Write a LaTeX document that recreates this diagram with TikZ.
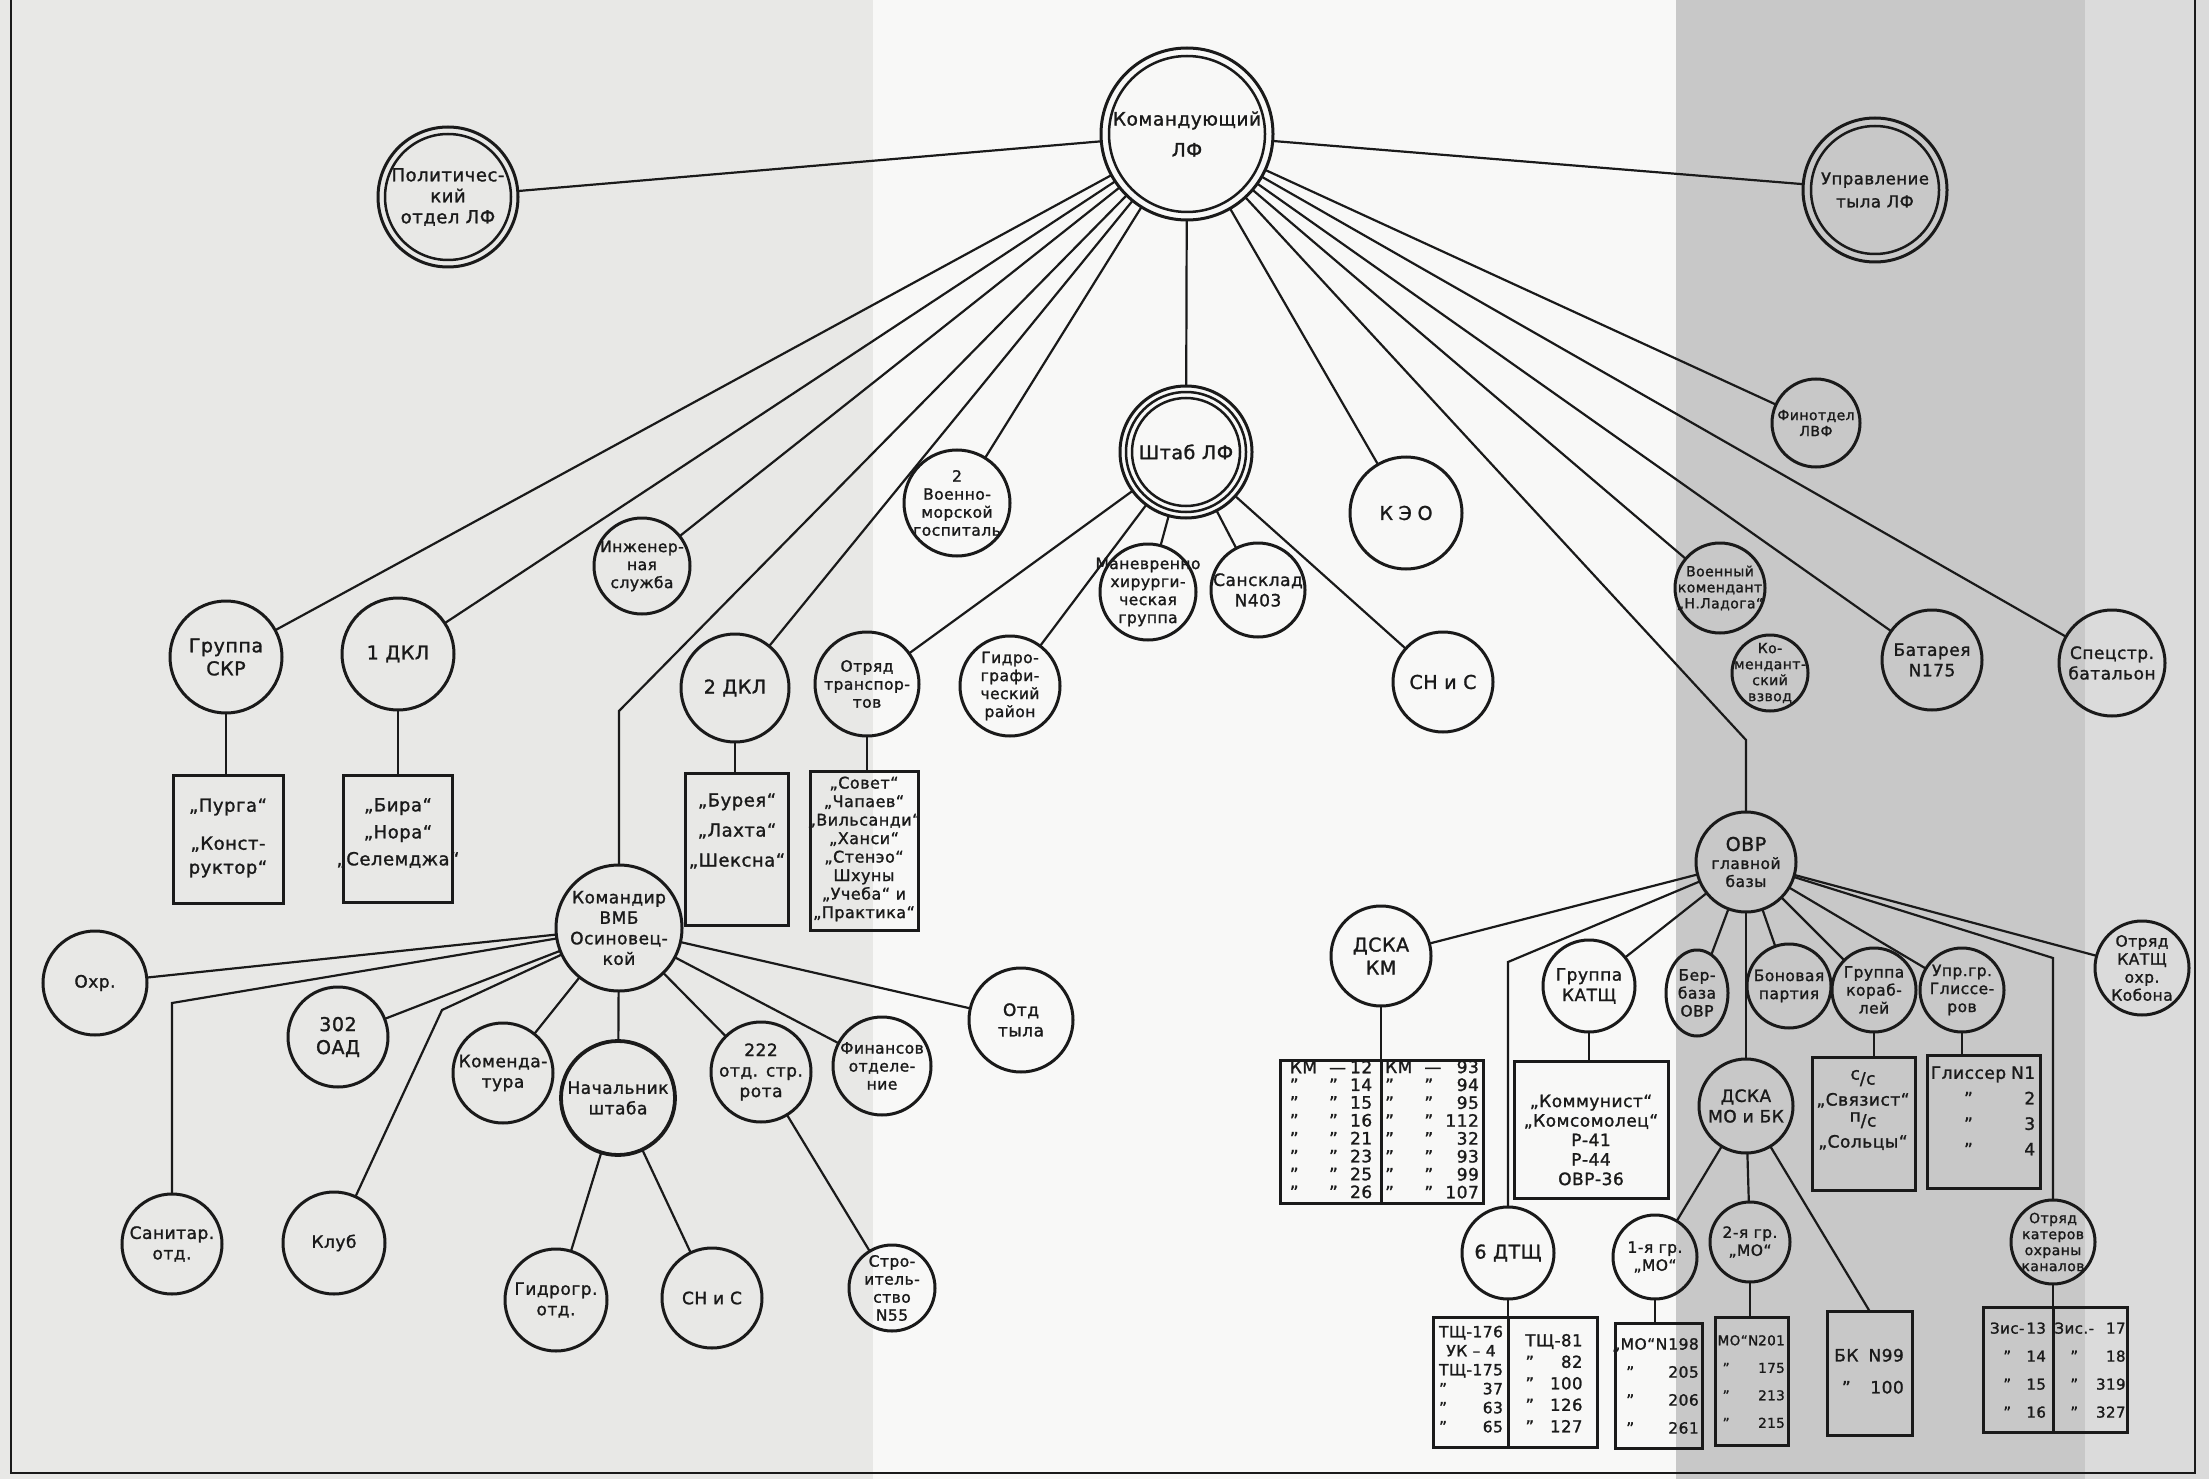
\documentclass[tikz,border=0pt]{standalone}
\usepackage{fontspec}
\setmainfont{DejaVu Sans}[LetterSpace=3,FakeBold=1.4]
\usetikzlibrary{shapes.geometric}
\definecolor{ink}{HTML}{1A1A1A}
\definecolor{bgL}{HTML}{E8E8E6}
\definecolor{bgM}{HTML}{F8F8F7}
\definecolor{bgR}{HTML}{C8C8C8}
\definecolor{bgF}{HTML}{DBDBDB}
\newcommand\fK{\fontsize{18.5}{31}\selectfont}
\newcommand\fA{\fontsize{19}{23}\selectfont}
\newcommand\fB{\fontsize{17}{20.5}\selectfont}
\newcommand\fC{\fontsize{15.5}{18}\selectfont}
\newcommand\fD{\fontsize{14}{16}\selectfont}
\newcommand\fT{\fontsize{17}{17.6}\selectfont}
\tikzset{
 ln/.style={draw=ink, line width=2.2pt},
 cc/.style={circle, draw=ink, line width=3pt, inner sep=0pt, outer sep=0pt},
 ring/.style={draw=ink, line width=2.5pt},
 bx/.style={rectangle, draw=ink, line width=3pt, inner sep=0pt, outer sep=0pt},
 tx/.style={align=center, inner sep=0pt, text=ink},
}
\newcommand\mkcirc[6]{\node[cc, minimum size={2*#4pt}] (#1) at (#2,#3) {};
  \node[tx, font=#5] (#1-t) at (#1.center) {#6};}
\newcommand\mkbox[5]{\node[bx, minimum width={(#4-#2)*1pt}, minimum height={(#5-#3)*1pt}] (#1) at ({(#2+#4)/2},{(#3+#5)/2}) {};}
\begin{document}
\begin{tikzpicture}[x=1pt,y=-1pt]
\useasboundingbox (0,0) rectangle (2209,1479);
\fill[bgL] (0,0) rectangle (873,1479);
\fill[bgM] (873,0) rectangle (1676,1479);
\fill[bgR] (1676,0) rectangle (2085,1479);
\fill[bgF] (2085,0) rectangle (2209,1479);
\draw[ink, line width=2.2pt] (11,0) -- (11,1473) -- (2195,1473) -- (2195,0);

% ---------- upper level
\mkcirc{kom}{1187}{134}{86}{\fK}{Командующий\\ЛФ}
\draw[ring] (kom.center) circle[radius=78pt];
\mkcirc{pol}{448}{197}{70}{\fontsize{18}{21}\selectfont}{Политичес-\\кий\\отдел ЛФ}
\draw[ring] (pol.center) circle[radius=63pt];
\mkcirc{upr}{1875}{190}{72}{\fontsize{16.5}{23}\selectfont}{Управление\\тыла ЛФ}
\draw[ring] (upr.center) circle[radius=64pt];
\mkcirc{shtab}{1186}{452}{66}{\fA}{Штаб ЛФ}
\draw[ring] (shtab.center) circle[radius=60pt];
\draw[ring] (shtab.center) circle[radius=54pt];
\mkcirc{fin}{1816}{423}{44}{\fD}{Финотдел\\ЛВФ}
\mkcirc{keo}{1406}{513}{56}{\fA\addfontfeatures{LetterSpace=30}}{КЭО}
\mkcirc{gosp}{957}{503}{53}{\fC}{2\\Военно-\\морской\\госпиталь}
\mkcirc{inzh}{642}{566}{48}{\fC}{Инженер-\\ная\\служба}
\mkcirc{manevr}{1148}{592}{48}{\fC}{Маневренно\\хирурги-\\ческая\\группа}
\mkcirc{sansk}{1258}{590}{47}{\fB}{Сансклад\\N403}
\mkcirc{skr}{226}{657}{56}{\fA}{Группа\\СКР}
\mkcirc{dkl1}{398}{654}{56}{\fA}{1 ДКЛ}
\mkcirc{dkl2}{735}{688}{54}{\fA}{2 ДКЛ}
\mkcirc{otrtr}{867}{684}{52}{\fC}{Отряд\\транспор-\\тов}
\mkcirc{gidrr}{1010}{686}{50}{\fC}{Гидро-\\графи-\\ческий\\район}
\mkcirc{snis1}{1443}{682}{50}{\fA}{СН и С}
\mkcirc{voen}{1720}{588}{45}{\fD}{Военный\\комендант\\„Н.Ладога“}
\mkcirc{komvz}{1770}{673}{38}{\fD}{Ко-\\мендант-\\ский\\взвод}
\mkcirc{bat}{1932}{660}{50}{\fB}{Батарея\\N175}
\mkcirc{spec}{2112}{663}{53}{\fB}{Спецстр.\\батальон}

% ---------- OVR group
\mkcirc{ovr}{1746}{862}{50}{\fC}{{\fA ОВР}\\главной\\базы}
\mkcirc{dskakm}{1381}{956}{50}{\fA}{ДСКА\\КМ}
\mkcirc{katsh}{1589}{986}{46}{\fB}{Группа\\КАТЩ}
\node[cc, ellipse, minimum width=62pt, minimum height=86pt] (berb) at (1697,993) {};
\node[tx, font=\fC] (berb-t) at (berb.center) {Бер-\\база\\ОВР};
\mkcirc{bon}{1789}{986}{42}{\fC}{Боновая\\партия}
\mkcirc{grk}{1874}{990}{42}{\fC}{Группа\\кораб-\\лей}
\mkcirc{upgl}{1962}{990}{42}{\fC}{Упр.гр.\\Глиссе-\\ров}
\mkcirc{kobona}{2142}{968}{47}{\fC}{Отряд\\КАТЩ\\охр.\\Кобона}
\mkcirc{dskamo}{1746}{1106}{47}{\fB}{ДСКА\\МО и БК}
\mkcirc{dtsh6}{1508}{1253}{46}{\fA}{6 ДТЩ}
\mkcirc{mo1}{1655}{1257}{42}{\fC}{1-я гр.\\„МО“}
\mkcirc{mo2}{1750}{1242}{40}{\fC}{2-я гр.\\„МО“}
\mkcirc{katk}{2053}{1242}{42}{\fD}{Отряд\\катеров\\охраны\\каналов}

% ---------- VMB group
\mkcirc{kmd}{619}{928}{63}{\fB}{Командир\\ВМБ\\Осиновец-\\кой}
\mkcirc{ohr}{95}{983}{52}{\fB}{Охр.}
\mkcirc{oad}{338}{1037}{50}{\fA}{302\\ОАД}
\mkcirc{san}{172}{1244}{50}{\fB}{Санитар.\\отд.}
\mkcirc{klub}{334}{1243}{51}{\fB}{Клуб}
\mkcirc{komd}{503}{1073}{50}{\fB}{Коменда-\\тура}
\node[cc, line width=3.8pt, minimum size=114pt] (nach) at (618,1098) {};
\node[tx, font=\fB] (nach-t) at (nach.center) {Начальник\\штаба};
\mkcirc{r222}{761}{1072}{50}{\fB}{222\\отд. стр.\\рота}
\mkcirc{finotd}{882}{1066}{49}{\fC}{Финансов\\отделе-\\ние}
\mkcirc{otdt}{1021}{1020}{52}{\fB}{Отд\\тыла}
\mkcirc{gidro}{556}{1300}{51}{\fB}{Гидрогр.\\отд.}
\mkcirc{snis2}{712}{1298}{50}{\fB}{СН и С}
\mkcirc{stroi}{892}{1288}{43}{\fC}{Стро-\\итель-\\ство\\N55}

% ---------- boxes
\mkbox{purbox}{173}{775}{283}{903}
\mkbox{birbox}{343}{775}{452}{902}
\mkbox{burbox}{685}{773}{788}{925}
\mkbox{sovbox}{810}{771}{918}{930}
\mkbox{kmbox}{1280}{1060}{1483}{1203}
\mkbox{katbox}{1514}{1061}{1668}{1198}
\mkbox{grkbox}{1812}{1057}{1915}{1190}
\mkbox{glbox}{1927}{1055}{2040}{1188}
\mkbox{bkbox}{1827}{1311}{1912}{1435}
\mkbox{zisbox}{1983}{1307}{2127}{1432}
\mkbox{mosbox}{1615}{1323}{1702}{1448}
\mkbox{motbox}{1715}{1317}{1788}{1445}
\mkbox{dtbox}{1433}{1317}{1597}{1447}
\draw[bx] (kmbox.north -| dskakm) -- (kmbox.south -| dskakm);
\draw[bx] (zisbox.north -| katk) -- (zisbox.south -| katk);
\draw[bx] (dtbox.north -| dtsh6) -- (dtbox.south -| dtsh6);

\node[tx, font={\fontsize{18}{24}\selectfont}] (purtx) at (228,838) {„Пурга“\\[14pt]„Конст-\\руктор“};
\node[tx, font={\fontsize{18}{27}\selectfont}] (birtx) at (398,833) {„Бира“\\„Нора“\\„Селемджа“};
\node[tx, font={\fontsize{18}{30}\selectfont}] (burtx) at (737,831) {„Бурея“\\„Лахта“\\„Шексна“};
\node[tx, font={\fontsize{16}{18.5}\selectfont}] (sovtx) at (864,849) {„Совет“\\„Чапаев“\\„Вильсанди“\\„Ханси“\\„Стенэо“\\Шхуны\\„Учеба“ и\\„Практика“};
\node[tx, font=\fT] (kmL) at (1331,1132) {\begin{tabular}{@{}l@{\hspace{12pt}}l@{\hspace{4pt}}r@{}}КМ&—&12\\"&"&14\\"&"&15\\"&"&16\\"&"&21\\"&"&23\\"&"&25\\"&"&26\end{tabular}};
\node[tx, font=\fT] (kmR) at (1432,1132) {\begin{tabular}{@{}l@{\hspace{12pt}}l@{\hspace{4pt}}r@{}}КМ&—&93\\"&"&94\\"&"&95\\"&"&112\\"&"&32\\"&"&93\\"&"&99\\"&"&107\end{tabular}};
\node[tx, font={\fontsize{17}{19.5}\selectfont}] (kattx) at (1591,1140) {„Коммунист“\\„Комсомолец“\\Р-41\\Р-44\\ОВР-36};
\node[tx, font={\fontsize{17}{21}\selectfont}] (grktx) at (1863,1110) {\raisebox{5pt}{с}/с\\„Связист“\\\raisebox{5pt}{п}/с\\„Сольцы“};
\node[tx, font={\fontsize{17}{25.5}\selectfont}] (gltx) at (1983,1112) {\begin{tabular}{@{}c@{\hspace{5pt}}r@{}}Глиссер&N1\\"&2\\"&3\\"&4\end{tabular}};
\node[tx, font={\fontsize{17}{32}\selectfont}] (bktx) at (1869,1371) {\begin{tabular}{@{}c@{\hspace{10pt}}r@{}}БК&N99\\"&100\end{tabular}};
\node[tx, font={\fontsize{15}{28}\selectfont}] (zisL) at (2018,1370) {\begin{tabular}{@{}c@{\hspace{2pt}}r@{}}Зис-&13\\"&14\\"&15\\"&16\end{tabular}};
\node[tx, font={\fontsize{15}{28}\selectfont}] (zisR) at (2090,1370) {\begin{tabular}{@{}c@{\hspace{2pt}}r@{}}Зис.-&17\\"&18\\"&319\\"&327\end{tabular}};
\node[tx, font={\fontsize{15.5}{28}\selectfont}, anchor=east] (mostx) at (1699,1386) {\begin{tabular}{@{}l@{\hspace{1pt}}r@{}}„МО“N&198\\\hspace{14pt}"&205\\\hspace{14pt}"&206\\\hspace{14pt}"&261\end{tabular}};
\node[tx, font={\fontsize{13.5}{27.5}\selectfont}, anchor=east] (motx) at (1785,1381) {\begin{tabular}{@{}l@{\hspace{0pt}}r@{}}МО“N&201\\\hspace{5pt}"&175\\\hspace{5pt}"&213\\\hspace{5pt}"&215\end{tabular}};
\node[tx, font={\fontsize{15.5}{19}\selectfont}] (dtL) at (1471,1381) {\begin{tabular}{@{}l@{\hspace{10pt}}r@{}}\multicolumn{2}{@{}c@{}}{ТЩ-176}\\\multicolumn{2}{@{}c@{}}{УК – 4}\\\multicolumn{2}{@{}c@{}}{ТЩ-175}\\"&37\\"&63\\"&65\end{tabular}};
\node[tx, font={\fontsize{16.5}{21.5}\selectfont}] (dtR) at (1554,1385) {\begin{tabular}{@{}l@{\hspace{10pt}}r@{}}\multicolumn{2}{@{}c@{}}{ТЩ-81}\\"&82\\"&100\\"&126\\"&127\end{tabular}};

% ---------- connectors
\coordinate (bKmd) at (619,711);
\coordinate (bOvr) at (1746,740);
\coordinate (b6) at (1508,962);
\coordinate (bKat) at (2053,958);
\coordinate (bSan) at (172,1003);
\coordinate (bKlub) at (442,1010);
\draw[ln] (kom) -- (pol);
\draw[ln] (kom) -- (upr);
\draw[ln] (kom) -- (skr);
\draw[ln] (kom) -- (dkl1);
\draw[ln] (kom) -- (bKmd) -- (kmd);
\draw[ln] (kom) -- (inzh);
\draw[ln] (kom) -- (dkl2);
\draw[ln] (kom) -- (gosp);
\draw[ln] (kom) -- (shtab);
\draw[ln] (kom) -- (keo);
\draw[ln] (kom) -- (bOvr) -- (ovr);
\draw[ln] (kom) -- (voen);
\draw[ln] (kom) -- (bat);
\draw[ln] (kom) -- (spec);
\draw[ln] (kom) -- (fin);
\draw[ln] (shtab) -- (manevr);
\draw[ln] (shtab) -- (sansk);
\draw[ln] (shtab) -- (gidrr);
\draw[ln] (shtab) -- (snis1);
\draw[ln] (shtab) -- (otrtr);
\draw[ln] (skr) -- (skr |- purbox.north);
\draw[ln] (dkl1) -- (dkl1 |- birbox.north);
\draw[ln] (dkl2) -- (dkl2 |- burbox.north);
\draw[ln] (otrtr) -- (otrtr |- sovbox.north);
\draw[ln] (kmd) -- (ohr);
\draw[ln] (kmd) -- (bSan) -- (san);
\draw[ln] (kmd) -- (oad);
\draw[ln] (kmd) -- (bKlub) -- (klub);
\draw[ln] (kmd) -- (komd);
\draw[ln] (kmd) -- (nach);
\draw[ln] (kmd) -- (r222);
\draw[ln] (kmd) -- (finotd);
\draw[ln] (kmd) -- (otdt);
\draw[ln] (nach) -- (gidro);
\draw[ln] (nach) -- (snis2);
\draw[ln] (r222) -- (stroi);
\draw[ln] (ovr) -- (dskakm);
\draw[ln] (ovr) -- (b6) -- (dtsh6);
\draw[ln] (ovr) -- (katsh);
\draw[ln] (ovr) -- (berb);
\draw[ln] (ovr) -- (bon);
\draw[ln] (ovr) -- (grk);
\draw[ln] (ovr) -- (upgl);
\draw[ln] (ovr) -- (bKat) -- (katk);
\draw[ln] (ovr) -- (kobona);
\draw[ln] (ovr) -- (dskamo);
\draw[ln] (dskakm) -- (dskakm |- kmbox.north);
\draw[ln] (katsh) -- (katsh |- katbox.north);
\draw[ln] (grk) -- (grk |- grkbox.north);
\draw[ln] (upgl) -- (upgl |- glbox.north);
\draw[ln] (katk) -- (katk |- zisbox.north);
\draw[ln] (dtsh6) -- (dtsh6 |- dtbox.north);
\draw[ln] (dskamo) -- (mo1);
\draw[ln] (dskamo) -- (mo2);
\draw[ln] (dskamo) -- (bkbox.north);
\draw[ln] (mo1) -- (mo1 |- mosbox.north);
\draw[ln] (mo2) -- (mo2 |- motbox.north);
\end{tikzpicture}
\end{document}
